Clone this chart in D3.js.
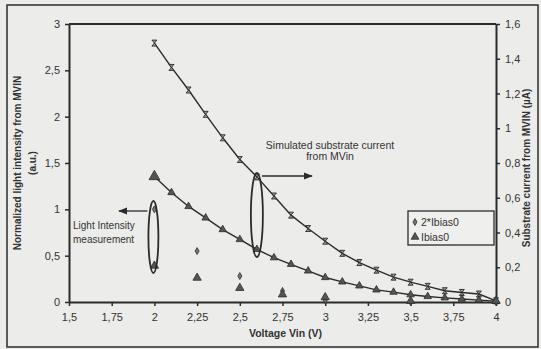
<!DOCTYPE html>
<html>
<head>
<meta charset="utf-8">
<script src="https://cdn.jsdelivr.net/npm/d3@7"></script>
<style>
  body { margin: 0; background: #ececea; }
  svg { display: block; font-family: "Liberation Sans", Arial, sans-serif; }
</style>
</head>
<body>
<svg width="541" height="349"></svg>
<script>
// simulated substrate current (right axis, uA), one point every 0.1 V
const simVolts = [2.0,2.1,2.2,2.3,2.4,2.5,2.6,2.7,2.8,2.9,3.0,3.1,3.2,3.3,3.4,3.5,3.6,3.7,3.8,3.9,4.0];
const sim2Ibias = [1.49,1.35,1.22,1.08,0.945,0.82,0.72,0.61,0.50,0.423,0.35,0.28,0.227,0.183,0.143,0.114,0.09,0.065,0.055,0.046,0.007];
const simIbias  = [0.722,0.63,0.55,0.484,0.417,0.36,0.303,0.255,0.217,0.179,0.141,0.116,0.093,0.07,0.057,0.042,0.032,0.024,0.017,0.011,0.005];

// light intensity measurement (left axis, a.u.)
const measVolts = [2.0,2.25,2.5,2.75,3.0,3.5,4.0];
const meas2Ibias = [1.0,0.55,0.28,0.12,0.02,0.0,0.0];
const measIbias  = [0.38,0.25,0.14,0.07,0.04,0.0,0.0];

const xTicks = [1.5,1.75,2,2.25,2.5,2.75,3,3.25,3.5,3.75,4];
const yLeftTicks = [0,0.5,1,1.5,2,2.5,3];
const yRightTicks = [0,0.2,0.4,0.6,0.8,1,1.2,1.4,1.6];

const svg = d3.select("svg");
const ink = "#2b2b2b";
const loc = d3.formatLocale({decimal: ",", thousands: ".", grouping: [3], currency: ["", ""]});
const fmt = loc.format("~g");

const pLeft = 69, pRight = 496, pTop = 24, pBottom = 302;
const x = d3.scaleLinear().domain([1.5, 4]).range([pLeft, pRight]);
const yL = d3.scaleLinear().domain([0, 3]).range([pBottom, pTop]);
const yR = d3.scaleLinear().domain([0, 1.6]).range([pBottom, pTop]);

// outer frame of the scanned figure
svg.append("rect").attr("x", 7).attr("y", 5).attr("width", 531).attr("height", 342)
  .attr("fill", "none").attr("stroke", ink).attr("stroke-width", 1.5);

// top border of plot
svg.append("line").attr("x1", pLeft).attr("x2", pRight).attr("y1", pTop).attr("y2", pTop)
  .attr("stroke", ink).attr("stroke-width", 2);

function styleAxis(g) {
  g.selectAll("path").attr("stroke", ink).attr("stroke-width", 2);
  g.selectAll("line").attr("stroke", ink).attr("stroke-width", 1.5);
  g.selectAll("text").attr("fill", "#333").style("font-size", "11px");
}

svg.append("g").attr("transform", "translate(0," + pBottom + ")")
  .call(d3.axisBottom(x).tickValues(xTicks).tickFormat(fmt).tickSize(4).tickSizeOuter(0).tickPadding(7))
  .call(styleAxis);
svg.append("g").attr("transform", "translate(" + pLeft + ",0)")
  .call(d3.axisLeft(yL).tickValues(yLeftTicks).tickFormat(fmt).tickSize(4).tickSizeOuter(0).tickPadding(5))
  .call(styleAxis);
svg.append("g").attr("transform", "translate(" + pRight + ",0)")
  .call(d3.axisRight(yR).tickValues(yRightTicks).tickFormat(fmt).tickSize(4).tickSizeOuter(0).tickPadding(5))
  .call(styleAxis);

// axis titles
svg.append("text").attr("x", (pLeft + pRight) / 2 + 3).attr("y", 337).attr("text-anchor", "middle")
  .attr("font-weight", "bold").attr("font-size", "10.5px").attr("fill", "#333").text("Voltage Vin (V)");
svg.append("text").attr("transform", "translate(21,163) rotate(-90)").attr("text-anchor", "middle")
  .attr("font-weight", "bold").attr("font-size", "10px").attr("fill", "#333").text("Normalized light intensity from MVIN");
svg.append("text").attr("transform", "translate(36,163) rotate(-90)").attr("text-anchor", "middle")
  .attr("font-weight", "bold").attr("font-size", "10px").attr("fill", "#333").text("(a.u.)");
svg.append("text").attr("transform", "translate(530,168) rotate(-90)").attr("text-anchor", "middle")
  .attr("font-weight", "bold").attr("font-size", "10px").attr("fill", "#333").text("Substrate current from MVIN (µA)");

// simulated curves
const simLine = vals => d3.line().x((d, i) => x(simVolts[i])).y(d => yR(d))(vals);
svg.append("path").attr("d", simLine(sim2Ibias)).attr("fill", "none").attr("stroke", ink).attr("stroke-width", 1.4);
svg.append("path").attr("d", simLine(simIbias)).attr("fill", "none").attr("stroke", ink).attr("stroke-width", 1.4);

// hourglass marker for upper curve
const hourglass = "M-2.5,-3L2.5,-3L-2.5,3L2.5,3Z";
svg.append("g").selectAll("path").data(sim2Ibias).join("path")
  .attr("transform", (d, i) => "translate(" + x(simVolts[i]) + "," + yR(d) + ")")
  .attr("d", hourglass).attr("fill", "#999").attr("stroke", ink).attr("stroke-width", 0.9);
svg.append("g").selectAll("path").data(simIbias).join("path")
  .attr("transform", (d, i) => "translate(" + x(simVolts[i]) + "," + yR(d) + ")")
  .attr("d", (d, i) => d3.symbol(d3.symbolTriangle, i === 0 ? 50 : 24)())
  .attr("fill", "#555").attr("stroke", ink).attr("stroke-width", 0.8);

// measured points
svg.append("g").selectAll("path").data(meas2Ibias).join("path")
  .attr("transform", (d, i) => "translate(" + x(measVolts[i]) + "," + yL(d) + ")")
  .attr("d", d3.symbol(d3.symbolDiamond, 14)())
  .attr("fill", "#777").attr("stroke", ink).attr("stroke-width", 0.8);
svg.append("g").selectAll("path").data(measIbias).join("path")
  .attr("transform", (d, i) => "translate(" + x(measVolts[i]) + "," + (yL(d) - 1) + ")")
  .attr("d", d3.symbol(d3.symbolTriangle, 30)())
  .attr("fill", "#555").attr("stroke", ink).attr("stroke-width", 0.8);

// annotations: ellipses and arrows
const defs = svg.append("defs");
defs.append("marker").attr("id", "arr").attr("viewBox", "0 0 10 10").attr("refX", 9).attr("refY", 5)
  .attr("markerWidth", 7).attr("markerHeight", 7).attr("orient", "auto")
  .append("path").attr("d", "M0,1L10,5L0,9Z").attr("fill", ink);

svg.append("ellipse").attr("cx", x(2) - 1).attr("cy", 237).attr("rx", 5).attr("ry", 36)
  .attr("fill", "none").attr("stroke", ink).attr("stroke-width", 1.8);
svg.append("line").attr("x1", x(2) - 7).attr("y1", 211).attr("x2", 119).attr("y2", 211)
  .attr("stroke", ink).attr("stroke-width", 1.3).attr("marker-end", "url(#arr)");
svg.append("text").attr("x", 73).attr("y", 229).attr("font-size", "10px")
  .attr("fill", "#333").text("Light Intensity");
svg.append("text").attr("x", 73).attr("y", 243).attr("font-size", "10px")
  .attr("fill", "#333").text("measurement");

svg.append("ellipse").attr("cx", x(2.6)).attr("cy", 215).attr("rx", 6).attr("ry", 42)
  .attr("fill", "none").attr("stroke", ink).attr("stroke-width", 1.8);
svg.append("line").attr("x1", x(2.6) + 5).attr("y1", 176).attr("x2", 312).attr("y2", 176)
  .attr("stroke", ink).attr("stroke-width", 1.3).attr("marker-end", "url(#arr)");
svg.append("text").attr("x", 330).attr("y", 149).attr("text-anchor", "middle").attr("font-size", "10.5px")
  .attr("fill", "#333").text("Simulated substrate current");
svg.append("text").attr("x", 330).attr("y", 160).attr("text-anchor", "middle").attr("font-size", "10.5px")
  .attr("fill", "#333").text("from MVin");

// legend
const lg = svg.append("g");
lg.append("rect").attr("x", 408).attr("y", 211).attr("width", 86).attr("height", 34)
  .attr("fill", "#efefed").attr("stroke", ink).attr("stroke-width", 1.3);
lg.append("path").attr("transform", "translate(415,222)").attr("d", d3.symbol(d3.symbolDiamond, 14)())
  .attr("fill", "#777").attr("stroke", ink).attr("stroke-width", 0.8);
lg.append("text").attr("x", 421).attr("y", 226).attr("font-size", "10.5px").attr("fill", "#333").text("2*Ibias0");
lg.append("path").attr("transform", "translate(415,237)").attr("d", d3.symbol(d3.symbolTriangle, 26)())
  .attr("fill", "#555").attr("stroke", ink).attr("stroke-width", 0.8);
lg.append("text").attr("x", 421).attr("y", 241).attr("font-size", "10.5px").attr("fill", "#333").text("Ibias0");
</script>
</body>
</html>
